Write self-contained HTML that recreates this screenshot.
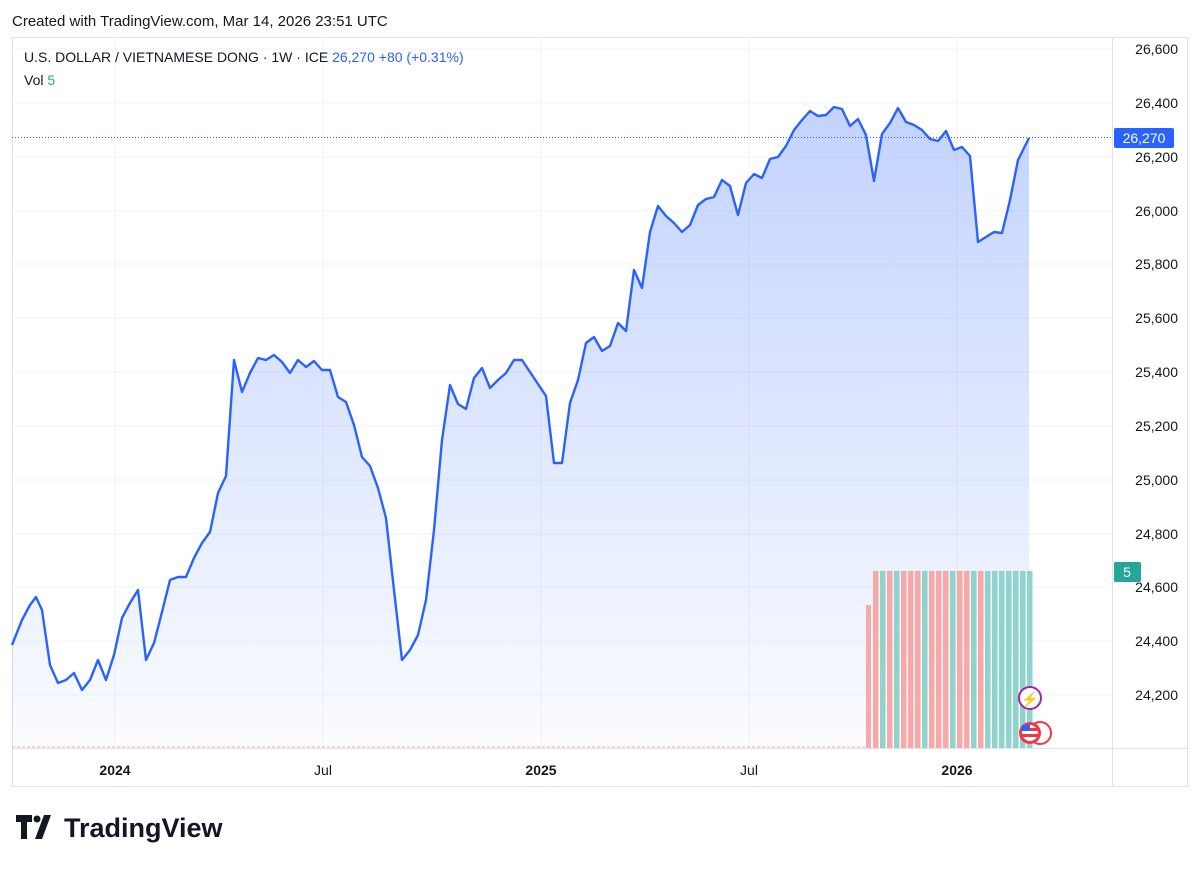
<!DOCTYPE html>
<html><head><meta charset="utf-8"><style>
body{margin:0;background:#fff;font-family:"Liberation Sans",sans-serif;}
</style></head><body>
<svg width="1200" height="867" xmlns="http://www.w3.org/2000/svg" font-family="Liberation Sans, sans-serif">
<defs><linearGradient id="g" x1="0" y1="0" x2="0" y2="1">
<stop offset="0" stop-color="#2962ff" stop-opacity="0.28"/><stop offset="1" stop-color="#2962ff" stop-opacity="0.02"/></linearGradient></defs>
<text x="12" y="26" font-size="15" fill="#131722">Created with TradingView.com, Mar 14, 2026 23:51 UTC</text>
<rect x="12.5" y="37.5" width="1175" height="749" fill="none" stroke="#e0e3eb"/>
<line x1="1112.5" y1="37" x2="1112.5" y2="786" stroke="#e0e3eb"/>
<line x1="12" y1="748.5" x2="1188" y2="748.5" stroke="#e0e3eb"/>
<g stroke="#f0f3fa">
<line x1="12" x2="1112" y1="49" y2="49"/><line x1="12" x2="1112" y1="103" y2="103"/><line x1="12" x2="1112" y1="157" y2="157"/><line x1="12" x2="1112" y1="211" y2="211"/><line x1="12" x2="1112" y1="264" y2="264"/><line x1="12" x2="1112" y1="318" y2="318"/><line x1="12" x2="1112" y1="372" y2="372"/><line x1="12" x2="1112" y1="426" y2="426"/><line x1="12" x2="1112" y1="480" y2="480"/><line x1="12" x2="1112" y1="534" y2="534"/><line x1="12" x2="1112" y1="587" y2="587"/><line x1="12" x2="1112" y1="641" y2="641"/><line x1="12" x2="1112" y1="695" y2="695"/>
<line y1="37" y2="748" x1="115" x2="115"/><line y1="37" y2="748" x1="323" x2="323"/><line y1="37" y2="748" x1="541" x2="541"/><line y1="37" y2="748" x1="749" x2="749"/><line y1="37" y2="748" x1="957" x2="957"/>
</g>
<g font-size="14" fill="#131722" text-anchor="end">
<text x="1178" y="54">26,600</text><text x="1178" y="108">26,400</text><text x="1178" y="162">26,200</text><text x="1178" y="216">26,000</text><text x="1178" y="269">25,800</text><text x="1178" y="323">25,600</text><text x="1178" y="377">25,400</text><text x="1178" y="431">25,200</text><text x="1178" y="485">25,000</text><text x="1178" y="539">24,800</text><text x="1178" y="592">24,600</text><text x="1178" y="646">24,400</text><text x="1178" y="700">24,200</text>
</g>
<g font-size="14" fill="#131722" text-anchor="middle">
<text x="115" y="775" font-weight="bold">2024</text><text x="323" y="775">Jul</text><text x="541" y="775" font-weight="bold">2025</text><text x="749" y="775">Jul</text><text x="957" y="775" font-weight="bold">2026</text>
</g>
<path fill="url(#g)" d="M12,748L12,645L22,620L30,605L36,597L42,610L50,665L58,683L66,680L74,673L82,690L90,680L98,660L106,680L114,655L122,618L130,603L138,590L146,660L154,643L162,612L170,580L178,577L186,577L194,558L202,543L210,532L218,493L226,476L234,360L242,392L250,373L258,358L266,360L274,355L282,362L290,373L298,360L306,367L314,361L322,370L330,370L338,397L346,402L354,425L362,457L370,466L378,488L386,518L394,590L402,660L410,650L418,635L426,600L434,530L442,440L450,385L458,404L466,409L474,378L482,368L490,388L498,380L506,373L514,360L522,360L530,372L538,384L546,396L554,463L562,463L570,403L578,380L586,343L594,337L602,351L610,346L618,323L626,331L634,270L642,288L650,232L658,206L666,216L674,223L682,232L690,225L698,205L706,199L714,197L722,180L730,186L738,215L746,183L754,174L762,178L770,159L778,157L786,146L794,130L802,120L810,111L818,116L826,115L834,107L842,109L850,126L858,119L866,135L874,181L882,134L890,123L898,108L906,122L914,125L922,130L930,139L938,141L946,131L954,150L962,147L970,156L978,242L986,237L994,232L1002,233L1010,200L1018,160L1029,138L1029,748Z"/>
<g>
<rect x="866" y="605" width="5" height="143" fill="#f7a9a7"/>
<rect x="873" y="571" width="5.5" height="177" fill="#f7a9a7"/>
<rect x="880" y="571" width="5.5" height="177" fill="#8fd3cb"/>
<rect x="887" y="571" width="5.5" height="177" fill="#f7a9a7"/>
<rect x="894" y="571" width="5.5" height="177" fill="#8fd3cb"/>
<rect x="901" y="571" width="5.5" height="177" fill="#f7a9a7"/>
<rect x="908" y="571" width="5.5" height="177" fill="#f7a9a7"/>
<rect x="915" y="571" width="5.5" height="177" fill="#f7a9a7"/>
<rect x="922" y="571" width="5.5" height="177" fill="#8fd3cb"/>
<rect x="929" y="571" width="5.5" height="177" fill="#f7a9a7"/>
<rect x="936" y="571" width="5.5" height="177" fill="#f7a9a7"/>
<rect x="943" y="571" width="5.5" height="177" fill="#f7a9a7"/>
<rect x="950" y="571" width="5.5" height="177" fill="#8fd3cb"/>
<rect x="957" y="571" width="5.5" height="177" fill="#f7a9a7"/>
<rect x="964" y="571" width="5.5" height="177" fill="#f7a9a7"/>
<rect x="971" y="571" width="5.5" height="177" fill="#8fd3cb"/>
<rect x="978" y="571" width="5.5" height="177" fill="#f7a9a7"/>
<rect x="985" y="571" width="5.5" height="177" fill="#8fd3cb"/>
<rect x="992" y="571" width="5.5" height="177" fill="#8fd3cb"/>
<rect x="999" y="571" width="5.5" height="177" fill="#8fd3cb"/>
<rect x="1006" y="571" width="5.5" height="177" fill="#8fd3cb"/>
<rect x="1013" y="571" width="5.5" height="177" fill="#8fd3cb"/>
<rect x="1020" y="571" width="5.5" height="177" fill="#8fd3cb"/>
<rect x="1027" y="571" width="5.5" height="177" fill="#8fd3cb"/>
</g>
<polyline fill="none" stroke="#2962ff" stroke-width="2.4" stroke-linejoin="round" points="12,645 22,620 30,605 36,597 42,610 50,665 58,683 66,680 74,673 82,690 90,680 98,660 106,680 114,655 122,618 130,603 138,590 146,660 154,643 162,612 170,580 178,577 186,577 194,558 202,543 210,532 218,493 226,476 234,360 242,392 250,373 258,358 266,360 274,355 282,362 290,373 298,360 306,367 314,361 322,370 330,370 338,397 346,402 354,425 362,457 370,466 378,488 386,518 394,590 402,660 410,650 418,635 426,600 434,530 442,440 450,385 458,404 466,409 474,378 482,368 490,388 498,380 506,373 514,360 522,360 530,372 538,384 546,396 554,463 562,463 570,403 578,380 586,343 594,337 602,351 610,346 618,323 626,331 634,270 642,288 650,232 658,206 666,216 674,223 682,232 690,225 698,205 706,199 714,197 722,180 730,186 738,215 746,183 754,174 762,178 770,159 778,157 786,146 794,130 802,120 810,111 818,116 826,115 834,107 842,109 850,126 858,119 866,135 874,181 882,134 890,123 898,108 906,122 914,125 922,130 930,139 938,141 946,131 954,150 962,147 970,156 978,242 986,237 994,232 1002,233 1010,200 1018,160 1029,138"/>
<line x1="12" x2="1112" y1="137.5" y2="137.5" stroke="#2962ff" stroke-dasharray="1,2"/>
<line x1="12" x2="866" y1="747" y2="747" stroke="#f7a9a7" stroke-dasharray="3,2"/>
<rect x="1114" y="128" width="60" height="20" rx="2" fill="#2962ff"/>
<text x="1144" y="143" font-size="14" fill="#fff" text-anchor="middle">26,270</text>
<rect x="1114" y="562" width="27" height="20" rx="2" fill="#26a69a"/>
<text x="1127" y="577" font-size="14" fill="#fff" text-anchor="middle">5</text>
<circle cx="1030" cy="698" r="11" fill="#fff" stroke="#9c27b0" stroke-width="2"/>
<text x="1030" y="704" font-size="14" fill="#9c27b0" text-anchor="middle">⚡</text>
<circle cx="1040" cy="733" r="11" fill="#fff" stroke="#f23645" stroke-width="2"/>
<circle cx="1030" cy="733" r="11" fill="#f23645"/>
<circle cx="1030" cy="733" r="8" fill="#fff"/>
<rect x="1022" y="728" width="16" height="3" fill="#f23645"/><rect x="1022" y="734" width="16" height="3" fill="#f23645"/><rect x="1022" y="725" width="8" height="6" fill="#2962ff"/>
<text x="24" y="62" font-size="14" fill="#131722">U.S. DOLLAR / VIETNAMESE DONG · 1W · ICE <tspan fill="#2962ff">  26,270  +80 (+0.31%)</tspan></text>
<text x="24" y="85" font-size="14" fill="#131722">Vol <tspan fill="#26a69a">5</tspan></text>
<g transform="translate(16,815)" fill="#131722">
<path d="M0 0h16v7h-5v17h-6v-17h-5z"/><circle cx="21" cy="4" r="3.5"/><path d="M28 0h7l-9 24h-7z"/>
</g>
<text x="64" y="837" font-size="27" font-weight="bold" fill="#131722">TradingView</text>
</svg>
</body></html>
